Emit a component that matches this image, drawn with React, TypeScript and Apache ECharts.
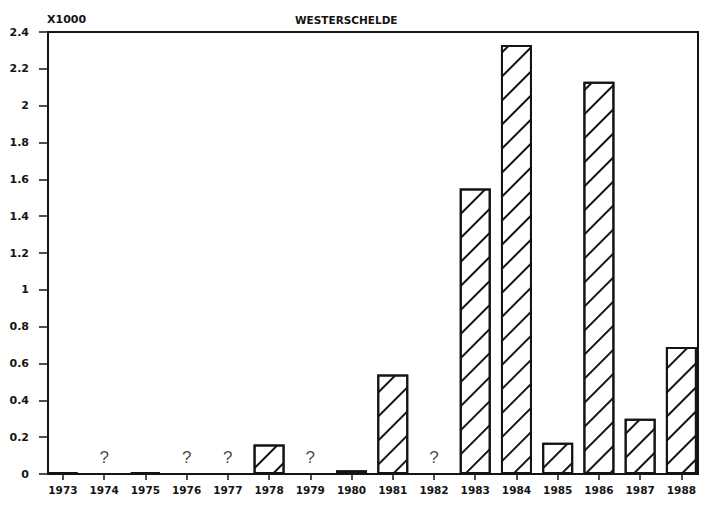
import React, { useEffect, useRef } from "react";
import * as echarts from "echarts";

const years = ["1973", "1974", "1975", "1976", "1977", "1978", "1979", "1980", "1981", "1982", "1983", "1984", "1985", "1986", "1987", "1988"];
// thousands; null = no data ("?")
const values: (number | null)[] = [0.01, null, 0.01, null, null, 0.16, null, 0.02, 0.54, null, 1.55, 2.33, 0.17, 2.13, 0.3, 0.69];
const unknownYears = ["1974", "1976", "1977", "1979", "1982"];
const unknownMarkLevel = 0.09;
const yMin = 0;
const yMax = 2.4;
const yStep = 0.2;

const INK = "#141414";
const FONT = "DejaVu Sans";

export default function App() {
  const ref = useRef<HTMLDivElement>(null);
  useEffect(() => {
    if (!ref.current) return;
    const chart = echarts.init(ref.current, null, { renderer: "svg" });
    chart.setOption({
      animation: false,
      backgroundColor: "#ffffff",
      title: [
        { text: "X1000", left: 42, top: 9, textStyle: { fontFamily: FONT, fontWeight: "bold", fontSize: 11, color: INK } },
        { text: "WESTERSCHELDE", left: 290, top: 9, textStyle: { fontFamily: FONT, fontWeight: "bold", fontSize: 10.5, color: INK } },
      ],
      grid: [
        { left: 48, right: 4, top: 32, bottom: 37, show: true, borderColor: INK, borderWidth: 2, backgroundColor: "transparent" },
        { left: 42.3, right: -2.7, top: 32, bottom: 37 },
      ],
      xAxis: [
        { type: "value", gridIndex: 0, show: false, min: 0, max: 1 },
        {
          type: "category",
          gridIndex: 1,
          data: years,
          axisLine: { show: false },
          axisTick: { show: true, alignWithLabel: true, length: 6, lineStyle: { color: INK, width: 1.5 } },
          axisLabel: { fontFamily: FONT, fontWeight: "bold", fontSize: 10.5, color: INK, margin: 10 },
          splitLine: { show: false },
        },
      ],
      yAxis: [
        {
          type: "value",
          gridIndex: 0,
          min: yMin,
          max: yMax,
          interval: yStep,
          axisLine: { show: true, lineStyle: { color: INK, width: 2 } },
          axisTick: { show: true, length: 9, lineStyle: { color: INK, width: 1.5 } },
          axisLabel: {
            fontFamily: FONT,
            fontWeight: "bold",
            fontSize: 11,
            color: INK,
            margin: 19,
            formatter: (v: number) => String(+v.toFixed(1)),
          },
          splitLine: { show: false },
        },
        { type: "value", gridIndex: 1, min: yMin, max: yMax, show: false },
      ],
      series: [
        {
          type: "bar",
          xAxisIndex: 1,
          yAxisIndex: 1,
          data: values,
          barWidth: 31,
          itemStyle: {
            color: "#ffffff",
            borderColor: INK,
            borderWidth: 2,
            decal: {
              symbol: "rect",
              symbolSize: 1,
              color: INK,
              backgroundColor: "#ffffff",
              dashArrayX: [1, 0],
              dashArrayY: [2, 15],
              rotation: -Math.PI / 4,
            },
          },
        },
        {
          type: "scatter",
          xAxisIndex: 1,
          yAxisIndex: 1,
          symbolSize: 0,
          data: unknownYears.map((y) => [y, unknownMarkLevel]),
          label: {
            show: true,
            position: "inside",
            formatter: "?",
            fontFamily: "Liberation Sans",
            fontSize: 17,
            color: INK,
          },
        },
      ],
    });
    return () => chart.dispose();
  }, []);
  return <div ref={ref} style={{ position: "absolute", left: 0, top: 0, width: 702, height: 511 }} />;
}
